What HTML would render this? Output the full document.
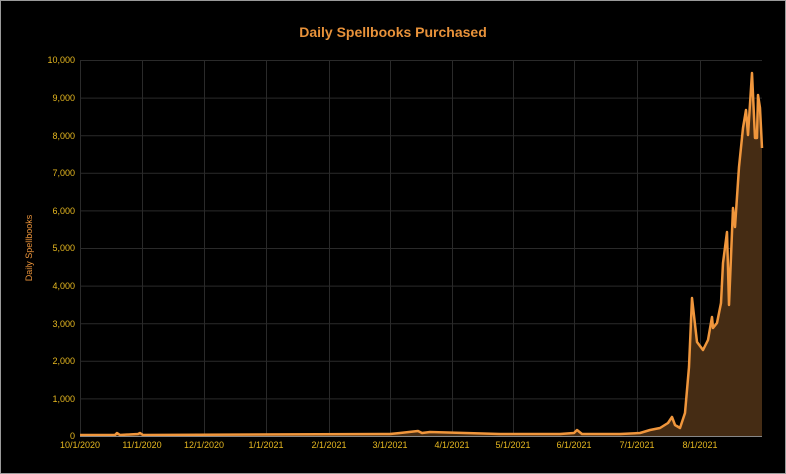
<!DOCTYPE html>
<html><head><style>
html,body{margin:0;padding:0;background:#000;}
#c{width:786px;height:474px;box-sizing:border-box;border:1px solid #9a9a9a;background:#000;position:relative;overflow:hidden;}
svg{position:absolute;left:-1px;top:-1px;}
</style></head><body><div id="c">
<svg width="786" height="474" font-family="Liberation Sans, Arial, sans-serif">
<text x="393" y="37" fill="#e8923a" font-size="14" font-weight="bold" text-anchor="middle">Daily Spellbooks Purchased</text>
<text transform="translate(32,248) rotate(-90)" fill="#e8923a" font-size="9" text-anchor="middle">Daily Spellbooks</text>
<g stroke="#2a2a2a" stroke-width="1">
<line x1="80" x2="762" y1="60.5" y2="60.5"/><line x1="80" x2="762" y1="98.1" y2="98.1"/><line x1="80" x2="762" y1="135.7" y2="135.7"/><line x1="80" x2="762" y1="173.3" y2="173.3"/><line x1="80" x2="762" y1="210.9" y2="210.9"/><line x1="80" x2="762" y1="248.5" y2="248.5"/><line x1="80" x2="762" y1="286.1" y2="286.1"/><line x1="80" x2="762" y1="323.7" y2="323.7"/><line x1="80" x2="762" y1="361.3" y2="361.3"/><line x1="80" x2="762" y1="398.9" y2="398.9"/>
<line x1="80.5" x2="80.5" y1="60" y2="436"/><line x1="142.5" x2="142.5" y1="60" y2="436"/><line x1="204.5" x2="204.5" y1="60" y2="436"/><line x1="266.5" x2="266.5" y1="60" y2="436"/><line x1="329.5" x2="329.5" y1="60" y2="436"/><line x1="390.5" x2="390.5" y1="60" y2="436"/><line x1="452.5" x2="452.5" y1="60" y2="436"/><line x1="513.5" x2="513.5" y1="60" y2="436"/><line x1="574.5" x2="574.5" y1="60" y2="436"/><line x1="637.5" x2="637.5" y1="60" y2="436"/><line x1="700.5" x2="700.5" y1="60" y2="436"/>
</g>
<g fill="#e6b820" font-size="9" text-anchor="end">
<text x="75" y="63">10,000</text><text x="75" y="101">9,000</text><text x="75" y="139">8,000</text><text x="75" y="176">7,000</text><text x="75" y="214">6,000</text><text x="75" y="251">5,000</text><text x="75" y="289">4,000</text><text x="75" y="327">3,000</text><text x="75" y="364">2,000</text><text x="75" y="402">1,000</text><text x="75" y="439">0</text>
</g>
<g fill="#e6b820" font-size="9" text-anchor="middle">
<text x="80" y="448">10/1/2020</text><text x="142" y="448">11/1/2020</text><text x="204" y="448">12/1/2020</text><text x="266" y="448">1/1/2021</text><text x="329" y="448">2/1/2021</text><text x="390" y="448">3/1/2021</text><text x="452" y="448">4/1/2021</text><text x="513" y="448">5/1/2021</text><text x="574" y="448">6/1/2021</text><text x="637" y="448">7/1/2021</text><text x="700" y="448">8/1/2021</text>
</g>
<path d="M80,436 L80,435 L115,435 L117,433 L120,435 L138,434 L140,433 L143,435 L390,434 L400,433 L418,431 L422,433 L430,432 L500,434 L560,434 L574,433 L577,430 L582,434 L620,434 L640,433 L650,430 L660,428 L668,423 L672,417 L675,425 L680,428 L685,413 L689,367 L692,298 L697,342 L703,350 L708,340 L712,317 L713,328 L717,323 L721,303 L723,263 L727,232 L729,305 L733,208 L735,227 L739,167 L743,128 L746,110 L748,135 L752,73 L755,138 L757,138 L758,95 L760,108 L762,148 L762,436 Z" fill="#452c14"/>
<polyline points="80,435 115,435 117,433 120,435 138,434 140,433 143,435 390,434 400,433 418,431 422,433 430,432 500,434 560,434 574,433 577,430 582,434 620,434 640,433 650,430 660,428 668,423 672,417 675,425 680,428 685,413 689,367 692,298 697,342 703,350 708,340 712,317 713,328 717,323 721,303 723,263 727,232 729,305 733,208 735,227 739,167 743,128 746,110 748,135 752,73 755,138 757,138 758,95 760,108 762,148" fill="none" stroke="#f0963c" stroke-width="2.5" stroke-linejoin="round"/>
<line x1="80" x2="762" y1="436.5" y2="436.5" stroke="#888" stroke-width="1"/>
</svg>
</div></body></html>
